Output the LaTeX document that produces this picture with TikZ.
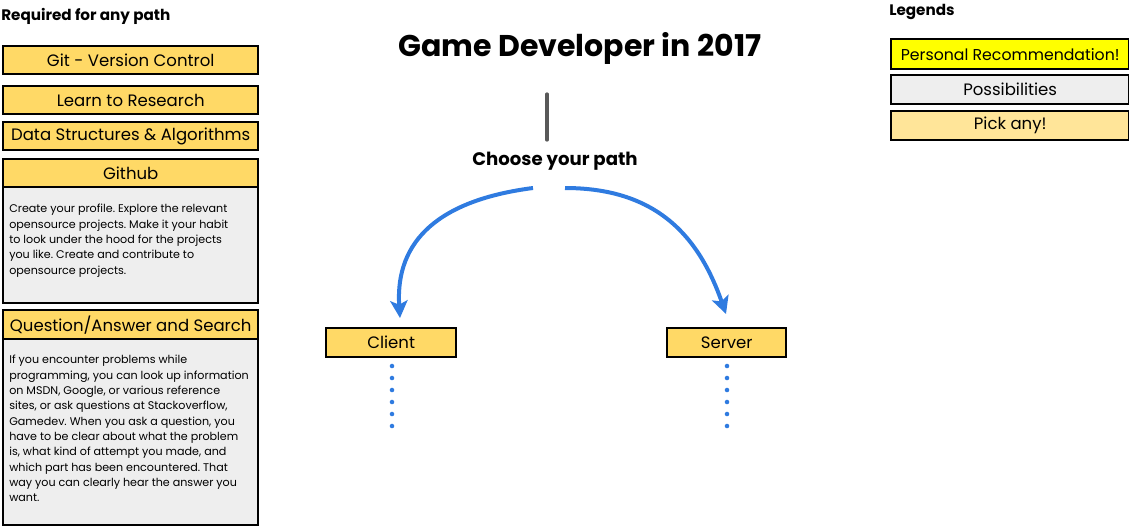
\documentclass[tikz,border=0pt]{standalone}
\usepackage{fontspec}
\setmainfont{Poppins}
\usetikzlibrary{arrows.meta,calc}
\hyphenpenalty=10000
\exhyphenpenalty=10000
\frenchspacing
\definecolor{pick}{HTML}{FFD966}
\definecolor{pickl}{HTML}{FFE599}
\definecolor{poss}{HTML}{EEEEEE}
\definecolor{reco}{HTML}{FFFF00}
\definecolor{arrowblue}{HTML}{2F7BE0}
\tikzset{
  px/.style={x=0.75pt,y=-0.75pt},
  hbox/.style={draw=black,line width=1.8pt,fill=pick,anchor=north west,inner sep=0pt},
  htext/.style={inner sep=0pt,font=\fontsize{12.4}{14}\selectfont},
  bodybox/.style={draw=black,line width=1.8pt,fill=poss,anchor=north west,inner sep=0pt},
  bodytext/.style={anchor=north west,inner sep=0pt,align=left,
    font=\fontsize{8.35}{11.5}\selectfont},
  heading/.style={anchor=west,inner sep=0pt,font=\bfseries\fontsize{11.4}{13}\selectfont},
  curvearrow/.style={draw=arrowblue,line width=3pt,-{Stealth[length=13pt,width=13pt,inset=3pt]}},
  dots/.style={draw=arrowblue,line width=3.4pt,line cap=round,dash pattern=on 0pt off 9pt},
}
\begin{document}
\begin{tikzpicture}[px]
\useasboundingbox (0,0) rectangle (1129,526);
% left column
\node[heading] (req) at (1,16) {Required for any path};
\node[hbox,minimum width=255*0.75pt,minimum height=28*0.75pt] (git) at (2,45) {};
\node[htext] at (git.center) {Git - Version Control};
\node[hbox,minimum width=255*0.75pt,minimum height=28*0.75pt] (learn) at (2,85) {};
\node[htext] at (learn.center) {Learn to Research};
\node[hbox,minimum width=255*0.75pt,minimum height=28*0.75pt] (dsa) at (2,121) {};
\node[htext] at (dsa.center) {Data Structures \& Algorithms};
\node[bodybox,minimum width=255*0.75pt,minimum height=116*0.75pt] (ghbody) at (2,186) {};
\node[hbox,minimum width=255*0.75pt,minimum height=28*0.75pt] (gh) at (2,158) {};
\node[htext] at (gh.center) {Github};
\node[bodytext] (ghtext) at (9,204) {Create your profile. Explore the relevant\\opensource projects. Make it your habit\\to look under the hood for the projects\\you like. Create and contribute to\\opensource projects.};
\node[bodybox,minimum width=255*0.75pt,minimum height=187*0.75pt] (qabody) at (2,337) {};
\node[hbox,minimum width=255*0.75pt,minimum height=29*0.75pt] (qa) at (2,309) {};
\node[htext] at (qa.center) {Question/Answer and Search};
\node[bodytext] (qatext) at (9,355) {If you encounter problems while\\programming, you can look up information\\on MSDN, Google, or various reference\\sites, or ask questions at Stackoverflow,\\Gamedev. When you ask a question, you\\have to be clear about what the problem\\is, what kind of attempt you made, and\\which part has been encountered. That\\way you can clearly hear the answer you\\want.};
% centre
\node[inner sep=0pt,font=\bfseries\fontsize{22.5}{26}\selectfont] (title) at (580,48) {Game Developer in 2017};
\coordinate (vtop) at (547,94);
\coordinate (vbot) at (547,140);
\draw[draw=black!65,line width=2.4pt,line cap=round] (vtop) -- (vbot);
\node[inner sep=0pt,font=\bfseries\fontsize{13.6}{15}\selectfont] (choose) at (555,161) {Choose your path};
\node[hbox,minimum width=130*0.75pt,minimum height=29*0.75pt] (client) at (325,327) {};
\node[htext] at (client.center) {Client};
\node[hbox,minimum width=119*0.75pt,minimum height=29*0.75pt] (server) at (666,327) {};
\node[htext] at (server.center) {Server};
\coordinate (ls) at (533,188);
\coordinate (le) at (400,318);
\coordinate (rs) at (565,188);
\coordinate (re) at (726,314);
\draw[curvearrow] (ls) .. controls (440,200) and (395,240) .. (le);
\draw[curvearrow] (rs) .. controls (660,188) and (700,240) .. (re);
\coordinate (cd1) at (392,366);
\coordinate (cd2) at (392,430);
\coordinate (sd1) at (727,366);
\coordinate (sd2) at (727,430);
\draw[dots] (cd1) -- (cd2);
\draw[dots] (sd1) -- (sd2);
% legend
\node[heading] (leg) at (889,12) {Legends};
\node[hbox,fill=reco,minimum width=238*0.75pt,minimum height=30*0.75pt] (l1) at (890,38) {};
\node[htext,font=\fontsize{11.8}{14}\selectfont] at (l1.center) {Personal Recommendation!};
\node[hbox,fill=poss,minimum width=238*0.75pt,minimum height=29*0.75pt] (l2) at (890,74) {};
\node[htext] at (l2.center) {Possibilities};
\node[hbox,fill=pickl,minimum width=238*0.75pt,minimum height=29*0.75pt] (l3) at (890,110) {};
\node[htext] at (l3.center) {Pick any!};
\end{tikzpicture}
\end{document}
